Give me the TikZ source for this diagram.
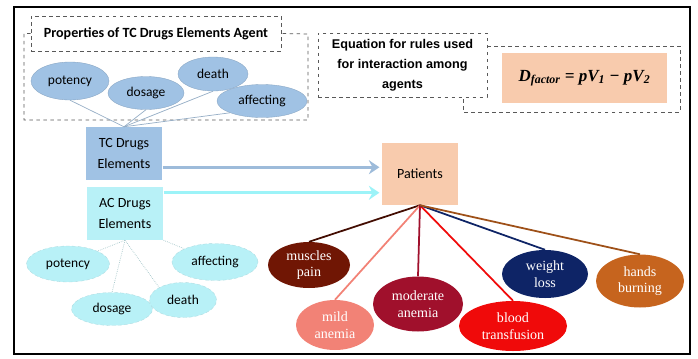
\documentclass[tikz,border=0pt]{standalone}
\usepackage{fontspec}
\setmainfont{Liberation Serif}
\newfontfamily\carl{Carlito}
\newfontfamily\arialish{Liberation Sans}
\usetikzlibrary{shapes.geometric,arrows.meta}
\definecolor{tcblue}{RGB}{160,194,228}
\definecolor{accyan}{RGB}{184,241,247}
\definecolor{peach}{RGB}{248,203,173}
\definecolor{symbrown}{RGB}{112,22,4}
\definecolor{symsalmon}{RGB}{242,130,118}
\definecolor{symcrimson}{RGB}{160,16,44}
\definecolor{symred}{RGB}{240,10,10}
\definecolor{symnavy}{RGB}{14,36,102}
\definecolor{symrust}{RGB}{198,100,30}
\tikzset{
  prop/.style={ellipse,inner sep=0pt,font=\carl\fontsize{11.5}{13}\selectfont},
  tcprop/.style={prop,fill=tcblue,draw=tcblue!85!black,line width=0.3pt},
  acprop/.style={prop,fill=accyan,draw=accyan!80!gray,densely dashed,line width=0.3pt},
  sym/.style={ellipse,inner sep=0pt,text=white,align=center,font=\fontsize{12}{14}\selectfont},
  agent/.style={rectangle,align=center,font=\carl\fontsize{12}{18}\selectfont,minimum width=2.3cm,minimum height=1.59cm},
  dbox/.style={draw=black!65,dashed,line width=0.6pt},
  tcline/.style={draw=tcblue!70!gray,line width=0.6pt},
  acline/.style={draw=accyan!60!gray,densely dotted,line width=0.6pt},
  flow/.style={line width=2.2pt,-{Stealth[length=9pt,width=12pt,inset=3pt]},shorten >=2pt}
}
\begin{document}
\begin{tikzpicture}[x=0.03cm,y=-0.03cm]
\useasboundingbox (0,0) rectangle (698,358);
\draw[line width=2pt] (14,7) rectangle (690,354);

\node[dbox,minimum width=7.5cm,minimum height=1.05cm,font=\carl\bfseries\fontsize{12}{14}\selectfont] (title) at (156,33.5) {Properties of TC Drugs Elements Agent};
\draw[dbox] (title.west) -- (24,33.5) -- (24,120) -- (308,120) -- (308,34) -- (title.east);
\node[tcprop,minimum width=2.34cm,minimum height=1.14cm] (tpot) at (70,81) {potency};
\node[tcprop,minimum width=2.28cm,minimum height=0.99cm] (tdos) at (146,93) {dosage};
\node[tcprop,minimum width=2.1cm,minimum height=1.02cm] (tdea) at (213,74) {death};
\node[tcprop,minimum width=2.7cm,minimum height=0.99cm] (taff) at (262,101) {affecting};

\node[agent,fill=tcblue] (tc) at (124,153.5) {TC Drugs\\Elements};
\node[agent,fill=accyan] (ac) at (125,213.5) {AC Drugs\\Elements};
\foreach \n in {tpot,tdos,tdea}
  \draw[tcline] (tc.north) -- (\n.south);
\draw[tcline] (tc.north) -- (taff.south west);

\node[acprop,minimum width=2.49cm,minimum height=1.08cm] (apot) at (68,264) {potency};
\node[acprop,minimum width=2.43cm,minimum height=0.99cm] (ados) at (112,309) {dosage};
\node[acprop,minimum width=2.01cm,minimum height=1.05cm] (adea) at (183,300) {death};
\node[acprop,minimum width=2.58cm,minimum height=1.11cm] (aaff) at (215,262) {affecting};
\draw[acline] (ac.south) -- (apot.north east);
\draw[acline] (ac.south) -- (ados.north);
\draw[acline] (ac.south) -- (adea.north west);
\draw[acline] (ac.south east) -- (aaff.north west);

\node[agent,fill=peach,minimum width=2.28cm,minimum height=1.86cm] (pat) at (420,174) {Patients};
\draw[flow,tcblue!90!gray] (tc.south east) ++(0,-13) coordinate (t1) -- (t1 -| pat.west);
\draw[flow,accyan!85!cyan] (ac.north east) ++(0,6) coordinate (a1) -- (a1 -| pat.west);

\node[dbox,minimum width=5.07cm,minimum height=1.92cm,align=center,font=\arialish\bfseries\fontsize{10.8}{17}\selectfont] (eq) at (402.5,65) {Equation for rules used\\for interaction among\\agents};
\node[fill=peach,minimum width=4.95cm,minimum height=1.5cm,font=\bfseries\itshape\fontsize{14.5}{16}\selectfont] (fml) at (584.5,78) {D\textsubscript{factor} = pV\textsubscript{1} − pV\textsubscript{2}};
\draw[dbox] (eq.east |- 0,46) -- (680,46) -- (680,112) -- (463,112) -- (eq.south -| 463,0);

\node[sym,fill=symbrown,minimum width=2.46cm,minimum height=1.38cm] (mus) at (309,265) {muscles\\pain};
\node[sym,fill=symsalmon,minimum width=2.34cm,minimum height=1.5cm] (mild) at (335,325) {mild\\anemia};
\node[sym,fill=symcrimson,minimum width=2.7cm,minimum height=1.65cm] (mod) at (418,304) {moderate\\anemia};
\node[sym,fill=symred,minimum width=3.24cm,minimum height=1.5cm] (blood) at (513,326) {blood\\transfusion};
\node[sym,fill=symnavy,minimum width=2.58cm,minimum height=1.44cm] (wgt) at (545,274) {weight\\loss};
\node[sym,fill=symrust,minimum width=2.64cm,minimum height=1.59cm] (hand) at (640,281) {hands\\burning};
\foreach \n/\c in {mus/symbrown!60!black,mild/symsalmon,mod/symcrimson,blood/symred,wgt/symnavy,hand/symrust!80!black}
  \draw[\c,line width=1.5pt] (pat.south) -- (\n.north);
\end{tikzpicture}
\end{document}
